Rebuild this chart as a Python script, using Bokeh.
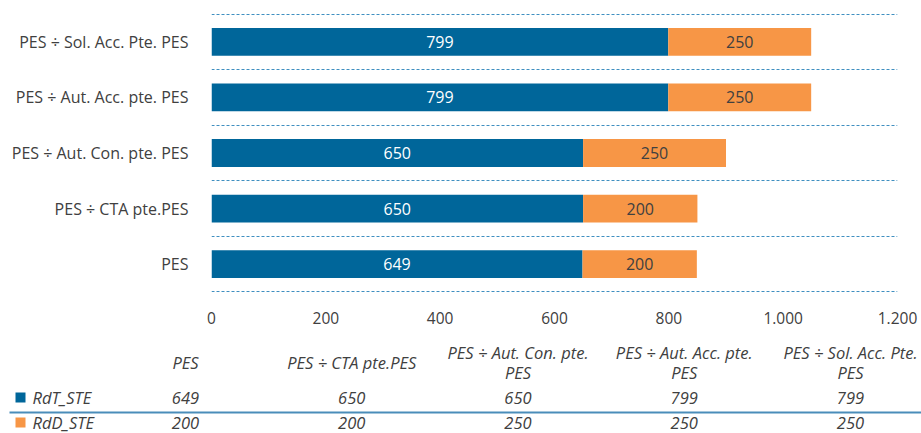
from bokeh.plotting import figure
from bokeh.layouts import column, row
from bokeh.models import ColumnDataSource, FixedTicker, Range1d
from bokeh.core.properties import value
from bokeh.embed import file_html
from bokeh.resources import INLINE

categories = ["PES", "PES ÷ CTA pte.PES", "PES ÷ Aut. Con. pte. PES",
              "PES ÷ Aut. Acc. pte. PES", "PES ÷ Sol. Acc. Pte. PES"]
table_headers = ["PES", "PES ÷ CTA pte.PES", "PES ÷ Aut. Con. pte.\nPES",
                 "PES ÷ Aut. Acc. pte.\nPES", "PES ÷ Sol. Acc. Pte.\nPES"]
rdt_ste = [649, 650, 650, 799, 799]
rdd_ste = [200, 200, 250, 250, 250]
series_names = ["RdT_STE", "RdD_STE"]
x_ticks = [0, 200, 400, 600, 800, 1000, 1200]
x_tick_labels = ["0", "200", "400", "600", "800", "1.000", "1.200"]

BLUE = "#00669A"
ORANGE = "#F79646"
GRID = "#3F8FC0"
TXT = "#404040"
FONT = "Open Sans"

n = len(categories)
ypos = [i + 0.5 for i in range(n)]
totals = [a + b for a, b in zip(rdt_ste, rdd_ste)]
src = ColumnDataSource(dict(
    y=ypos, rdt=rdt_ste, total=totals,
    mid_t=[a / 2 for a in rdt_ste],
    mid_d=[a + b / 2 for a, b in zip(rdt_ste, rdd_ste)],
    lbl_t=[str(v) for v in rdt_ste], lbl_d=[str(v) for v in rdd_ste],
))

pad = 0.03
p = figure(width=921, height=333, x_range=Range1d(0, 1200), y_range=Range1d(-pad, n + pad),
           output_backend="svg", toolbar_location=None,
           min_border_left=211, min_border_right=24, min_border_top=12, min_border_bottom=40)
p.outline_line_color = None

p.hbar(y="y", left=0, right="rdt", height=0.5, fill_color=BLUE, line_color=None, source=src)
p.hbar(y="y", left="rdt", right="total", height=0.5, fill_color=ORANGE, line_color=None, source=src)
p.text(x="mid_t", y="y", text="lbl_t", text_align="center", text_baseline="middle",
       text_color="white", text_font=value(FONT), text_font_size="16px", source=src)
p.text(x="mid_d", y="y", text="lbl_d", text_align="center", text_baseline="middle",
       text_color=TXT, text_font=value(FONT), text_font_size="16px", source=src)

p.xaxis.ticker = FixedTicker(ticks=x_ticks)
p.xaxis.major_label_overrides = {t: l for t, l in zip(x_ticks, x_tick_labels)}
p.yaxis.ticker = FixedTicker(ticks=ypos)
p.yaxis.major_label_overrides = {y: c for y, c in zip(ypos, categories)}
for ax in (p.xaxis, p.yaxis):
    ax.axis_line_color = None
    ax.major_tick_line_color = None
    ax.minor_tick_line_color = None
    ax.major_label_text_font = FONT
    ax.major_label_text_color = TXT
p.xaxis.major_label_text_font_size = "15.5px"
p.yaxis.major_label_text_font_size = "16px"
p.xaxis.major_label_standoff = 12
p.yaxis.major_label_standoff = 17

p.xgrid.visible = False
p.ygrid.ticker = FixedTicker(ticks=list(range(n + 1)))
p.ygrid.grid_line_color = GRID
p.ygrid.grid_line_dash = "3 2"
p.ygrid.grid_line_width = 1

# data table below the chart
H2 = 100
t = figure(width=921, height=H2, x_range=Range1d(0, 921), y_range=Range1d(H2, 0),
           output_backend="svg", toolbar_location=None,
           min_border_left=0, min_border_right=0, min_border_top=0, min_border_bottom=0,
           x_axis_location=None, y_axis_location=None)
t.outline_line_color = None
t.xgrid.visible = False
t.ygrid.visible = False

col_x = [185 + i * 166.25 for i in range(n)]
row_header, row_t, row_sep, row_d = 29, 64, 79, 89
tsrc = ColumnDataSource(dict(x=col_x, head=table_headers,
                             vt=[str(v) for v in rdt_ste], vd=[str(v) for v in rdd_ste]))
common = dict(text_align="center", text_baseline="middle", text_color=TXT,
              text_font=value(FONT), text_font_size="16.5px", text_font_style="italic", source=tsrc)
t.text(x="x", y=row_header, text="head", text_line_height=0.87, **common)
t.text(x="x", y=row_t, text="vt", **common)
t.text(x="x", y=row_d, text="vd", **common)

t.segment(x0=9, y0=row_sep, x1=921, y1=row_sep, line_color="#4A8DBA", line_width=2)

lsrc = ColumnDataSource(dict(x=[20, 20], y=[row_t, row_d], c=[BLUE, ORANGE], name=series_names, tx=[32, 32]))
t.rect(x="x", y="y", width=10, height=10, fill_color="c", line_color=None, source=lsrc)
t.text(x="tx", y="y", text="name", text_align="left", text_baseline="middle", text_color=TXT,
       text_font=value(FONT), text_font_size="16.5px", text_font_style="italic", source=lsrc)

layout = column(row(p), row(t), spacing=0)
open("out.html", "w").write(file_html(layout, INLINE))
